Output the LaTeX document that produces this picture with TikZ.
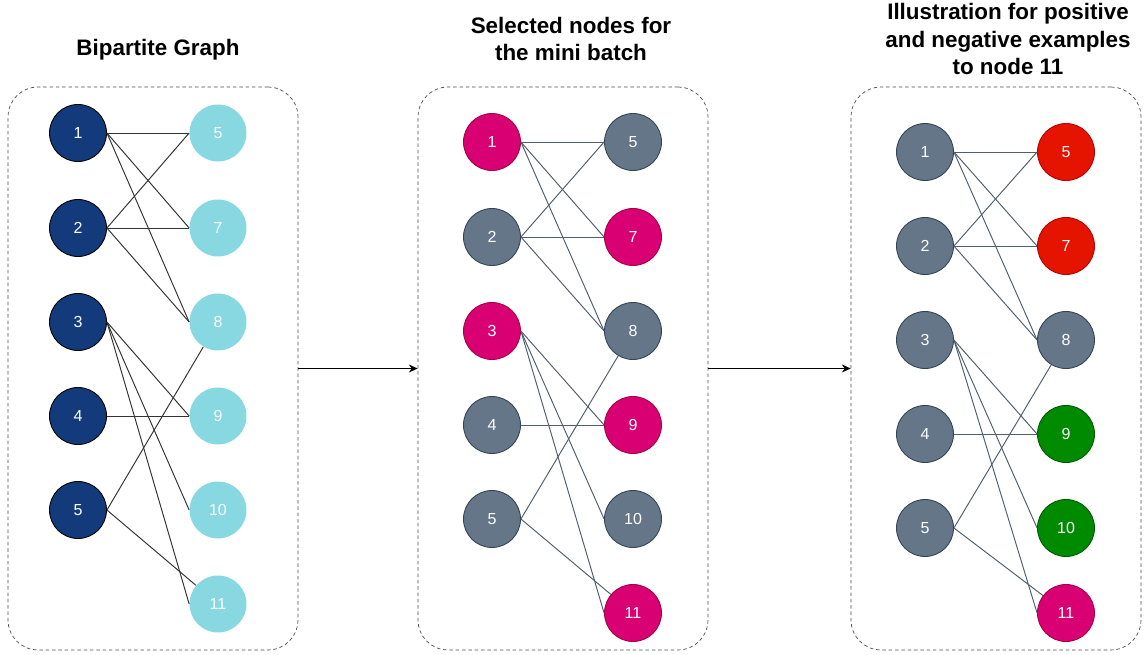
\documentclass[tikz,border=0pt]{standalone}
\usepackage{fontspec}
\setmainfont{Liberation Sans}
\usepackage{tikz}
\usetikzlibrary{shapes}
\usetikzlibrary{arrows.meta,calc}
\definecolor{darkblue}{RGB}{19,58,122}
\definecolor{lightblue}{RGB}{135,216,224}
\definecolor{slate}{RGB}{100,118,135}
\definecolor{slatedark}{RGB}{49,67,84}
\definecolor{pink}{RGB}{216,0,115}
\definecolor{pinkdark}{RGB}{165,0,64}
\definecolor{red}{RGB}{229,20,0}
\definecolor{reddark}{RGB}{178,0,0}
\definecolor{green}{RGB}{0,138,0}
\definecolor{greendark}{RGB}{0,87,0}
\tikzstyle{vertex}=[shape=circle,minimum size=1.14cm,inner sep=0pt,text=white,font=\fontsize{9.1}{11}\selectfont]
\tikzstyle{Nstate}=[vertex,draw=black,line width=0.5pt,fill=darkblue]
\tikzstyle{Cstate}=[vertex,fill=lightblue]
\tikzstyle{Gstate}=[vertex,draw=slatedark,line width=0.5pt,fill=slate]
\tikzstyle{Pstate}=[vertex,draw=pinkdark,line width=0.5pt,fill=pink]
\tikzstyle{Rstate}=[vertex,draw=reddark,line width=0.5pt,fill=red]
\tikzstyle{Vstate}=[vertex,draw=greendark,line width=0.5pt,fill=green]
\tikzstyle{panel}=[shape=rectangle,draw=black!70,dashed,dash pattern=on 2pt off 1.6pt,rounded corners=17pt,minimum width=5.8cm,minimum height=11.26cm,inner sep=0pt]
\tikzstyle{heading}=[align=center,font=\fontsize{12.75}{15.4}\selectfont\bfseries]
\tikzstyle{plainedge}=[draw=black!80,line width=0.55pt]
\tikzstyle{slateedge}=[draw=slatedark!85,line width=0.55pt]
\tikzstyle{stepedge}=[->,>={Stealth[length=5pt,width=4.5pt]},draw=black,line width=0.55pt]

\begin{document}
\begin{tikzpicture}[x=0.02cm,y=-0.02cm]
 \useasboundingbox (0,0) rectangle (1144,655);

 \node [heading] (t1) at (158,50) {Bipartite Graph};
 \node [heading] (t2) at (571,39) {Selected nodes for\\the mini batch};
 \node [heading] (t3) at (1008,39) {Illustration for positive\\and negative examples\\to node 11};

 \node[panel] (box1) at (153,368.5) {};
 \node[panel] (box2) at (563,368.5) {};
 \node[panel] (box3) at (996,368.5) {};

%% bipartite graph
\node[Nstate] (al1) at (78,133) {1};
\node[Nstate] (al2) at (78,228) {2};
\node[Nstate] (al3) at (78,322) {3};
\node[Nstate] (al4) at (78,416) {4};
\node[Nstate] (al5) at (78,510) {5};

\node[Cstate] (ar5) at (218,133) {5};
\node[Cstate] (ar7) at (218,228) {7};
\node[Cstate] (ar8) at (218,322) {8};
\node[Cstate] (ar9) at (218,416) {9};
\node[Cstate] (ar10) at (218,510) {10};
\node[Cstate] (ar11) at (218,604) {11};

%% mini batch
\node[Pstate] (bl1) at (492,142) {1};
\node[Gstate] (bl2) at (492,237) {2};
\node[Pstate] (bl3) at (492,331) {3};
\node[Gstate] (bl4) at (492,425) {4};
\node[Gstate] (bl5) at (492,519) {5};

\node[Gstate] (br5) at (633,142) {5};
\node[Pstate] (br7) at (633,237) {7};
\node[Gstate] (br8) at (633,331) {8};
\node[Pstate] (br9) at (633,425) {9};
\node[Gstate] (br10) at (633,519) {10};
\node[Pstate] (br11) at (633,613) {11};

%% positive / negative
\node[Gstate] (cl1) at (925,152) {1};
\node[Gstate] (cl2) at (925,246) {2};
\node[Gstate] (cl3) at (925,340) {3};
\node[Gstate] (cl4) at (925,434) {4};
\node[Gstate] (cl5) at (925,528) {5};

\node[Rstate] (cr5) at (1066,152) {5};
\node[Rstate] (cr7) at (1066,246) {7};
\node[Gstate] (cr8) at (1066,340) {8};
\node[Vstate] (cr9) at (1066,434) {9};
\node[Vstate] (cr10) at (1066,528) {10};
\node[Pstate] (cr11) at (1066,613) {11};

\path
(al1.east) edge [plainedge] (ar5.west)
(al1.east) edge [plainedge] (ar7.west)
(al1.east) edge [plainedge] (ar8.west)
(al2.east) edge [plainedge] (ar5.west)
(al2.east) edge [plainedge] (ar7.west)
(al2.east) edge [plainedge] (ar8.west)
(al3.east) edge [plainedge] (ar9.west)
(al3.east) edge [plainedge] (ar10.west)
(al3.east) edge [plainedge] (ar11.west)
(al4.east) edge [plainedge] (ar9.west)
(al5.east) edge [plainedge] (ar8)
(al5.east) edge [plainedge] (ar11)

(bl1.east) edge [slateedge] (br5.west)
(bl1.east) edge [slateedge] (br7.west)
(bl1.east) edge [slateedge] (br8.west)
(bl2.east) edge [slateedge] (br5.west)
(bl2.east) edge [slateedge] (br7.west)
(bl2.east) edge [slateedge] (br8.west)
(bl3.east) edge [slateedge] (br9.west)
(bl3.east) edge [slateedge] (br10.west)
(bl3.east) edge [slateedge] (br11.west)
(bl4.east) edge [slateedge] (br9.west)
(bl5.east) edge [slateedge] (br8)
(bl5.east) edge [slateedge] (br11)

(cl1.east) edge [slateedge] (cr5.west)
(cl1.east) edge [slateedge] (cr7.west)
(cl1.east) edge [slateedge] (cr8.west)
(cl2.east) edge [slateedge] (cr5.west)
(cl2.east) edge [slateedge] (cr7.west)
(cl2.east) edge [slateedge] (cr8.west)
(cl3.east) edge [slateedge] (cr9.west)
(cl3.east) edge [slateedge] (cr10.west)
(cl3.east) edge [slateedge] (cr11.west)
(cl4.east) edge [slateedge] (cr9.west)
(cl5.east) edge [slateedge] (cr8)
(cl5.east) edge [slateedge] (cr11)

(box1) edge [stepedge] (box2)
(box2) edge [stepedge] (box3);

\end{tikzpicture}
\end{document}
